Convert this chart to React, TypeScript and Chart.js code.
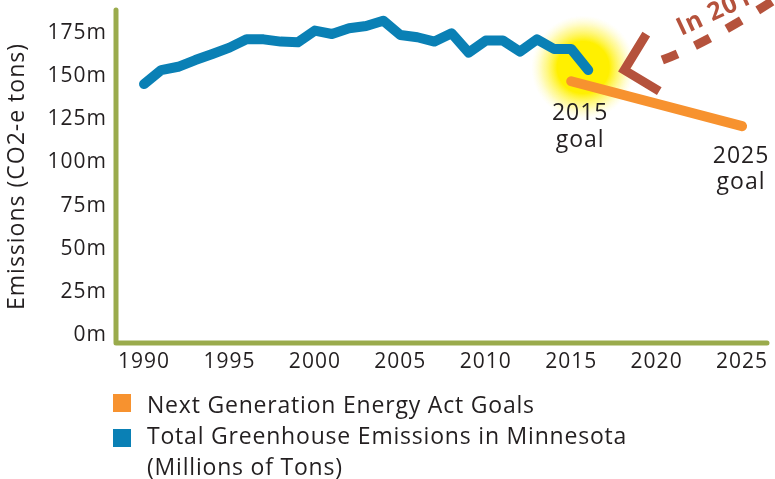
import React, { useEffect, useRef } from "react";
import { Chart, registerables } from "chart.js";

Chart.register(...registerables);

const years = [
  1990, 1991, 1992, 1993, 1994, 1995, 1996, 1997, 1998, 1999, 2000, 2001, 2002, 2003,
  2004, 2005, 2006, 2007, 2008, 2009, 2010, 2011, 2012, 2013, 2014, 2015, 2016,
];
const emissions = [
  145.4, 153.5, 155.4, 159.3, 162.8, 166.5, 171.3, 171.3, 170.0, 169.6, 176.4, 174.4, 177.7, 179.0,
  182.1, 173.8, 172.5, 170.0, 174.8, 163.6, 170.6, 170.6, 164.2, 171.3, 165.7, 165.7, 153.5,
];
const goalYears = [2015, 2025];
const goalValues = [147, 121];
const xTicks = [1990, 1995, 2000, 2005, 2010, 2015, 2020, 2025];
const yTicks = [0, 25, 50, 75, 100, 125, 150, 175];

const FONT = "'Open Sans', sans-serif";
const TEXT = "#231f20";
const BLUE = "#0a80b5";
const ORANGE = "#f7922f";
const OLIVE = "#9aab4c";
const BROWN = "#b5523c";

const spacingPlugin = {
  id: "letterSpacing",
  beforeLayout(chart: any) {
    chart.ctx.letterSpacing = "1px";
  },
  beforeDraw(chart: any) {
    chart.ctx.letterSpacing = "1px";
  },
};

const annotationPlugin = {
  id: "mnAnnotations",
  beforeDatasetsDraw(chart: any) {
    const { ctx, scales } = chart;
    const x = scales.x;
    const y = scales.y;
    const gx = x.getPixelForValue(2015.7);
    const gy = y.getPixelForValue(155);
    const g = ctx.createRadialGradient(gx, gy, 0, gx, gy, 52);
    g.addColorStop(0, "rgba(255,240,0,1)");
    g.addColorStop(0.5, "rgba(255,240,0,1)");
    g.addColorStop(0.78, "rgba(255,245,90,0.5)");
    g.addColorStop(1, "rgba(255,250,180,0)");
    ctx.save();
    ctx.fillStyle = g;
    ctx.beginPath();
    ctx.arc(gx, gy, 52, 0, Math.PI * 2);
    ctx.fill();
    ctx.restore();
  },
  afterDatasetsDraw(chart: any) {
    const { ctx, chartArea, scales } = chart;
    const x = scales.x;
    const y = scales.y;
    ctx.save();
    ctx.strokeStyle = OLIVE;
    ctx.lineWidth = 5;
    ctx.lineCap = "round";
    ctx.lineJoin = "round";
    ctx.beginPath();
    ctx.moveTo(chartArea.left, chartArea.top);
    ctx.lineTo(chartArea.left, chartArea.bottom);
    ctx.lineTo(chartArea.right, chartArea.bottom);
    ctx.stroke();

    ctx.fillStyle = TEXT;
    ctx.font = `23px ${FONT}`;
    ctx.textAlign = "center";
    ctx.textBaseline = "alphabetic";
    const s0x = x.getPixelForValue(goalYears[0]);
    const s0y = y.getPixelForValue(goalValues[0]);
    ctx.fillText(String(goalYears[0]), s0x + 9, s0y + 39);
    ctx.fillText("goal", s0x + 9, s0y + 66);
    const s1x = x.getPixelForValue(goalYears[1]);
    const s1y = y.getPixelForValue(goalValues[1]);
    ctx.fillText(String(goalYears[1]), s1x - 1, s1y + 37);
    ctx.fillText("goal", s1x - 1, s1y + 63);

    const lastX = x.getPixelForValue(years[years.length - 1]);
    const lastY = y.getPixelForValue(emissions[emissions.length - 1]);
    const tx = lastX + 36;
    const ty = lastY;
    ctx.strokeStyle = BROWN;
    ctx.lineWidth = 9;
    ctx.lineCap = "butt";
    ctx.lineJoin = "miter";
    ctx.beginPath();
    ctx.moveTo(tx + 22, ty - 36);
    ctx.lineTo(tx, ty);
    ctx.lineTo(tx + 35, ty + 21);
    ctx.stroke();
    ctx.setLineDash([17, 19]);
    ctx.beginPath();
    ctx.moveTo(tx + 38, ty - 10);
    ctx.quadraticCurveTo(tx + 90, ty - 30, tx + 165, ty - 80);
    ctx.stroke();
    ctx.setLineDash([]);

    ctx.translate(tx + 57, ty - 34);
    ctx.rotate((-25 * Math.PI) / 180);
    ctx.fillStyle = BROWN;
    ctx.font = `bold 25px ${FONT}`;
    ctx.textAlign = "left";
    ctx.fillText("In 2016", 0, 0);
    ctx.restore();
  },
};

export default function App() {
  const ref = useRef<HTMLCanvasElement | null>(null);
  useEffect(() => {
    if (!ref.current) return;
    const chart = new Chart(ref.current, {
      type: "line",
      data: {
        datasets: [
          {
            label: "Total Greenhouse Emissions in Minnesota (Millions of Tons)",
            data: years.map((yr, i) => ({ x: yr, y: emissions[i] })),
            borderColor: BLUE,
            backgroundColor: BLUE,
            borderWidth: 10,
            pointRadius: 0,
            borderCapStyle: "round",
            borderJoinStyle: "round",
            tension: 0,
          },
          {
            label: "Next Generation Energy Act Goals",
            data: goalYears.map((yr, i) => ({ x: yr, y: goalValues[i] })),
            borderColor: ORANGE,
            backgroundColor: ORANGE,
            borderWidth: 10,
            pointRadius: 0,
            borderCapStyle: "round",
            tension: 0,
          },
        ],
      },
      options: {
        responsive: false,
        animation: false,
        layout: { padding: { left: 0, top: 10, right: 8, bottom: 96 } },
        plugins: { legend: { display: false }, tooltip: { enabled: false } },
        scales: {
          x: {
            type: "linear",
            min: 1988.36,
            max: 2026.46,
            grid: { display: false, drawTicks: false },
            border: { display: false },
            afterBuildTicks: (s: any) => {
              s.ticks = xTicks.map((v) => ({ value: v }));
            },
            afterFit: (s: any) => {
              s.height = 40;
              s.paddingLeft = 0;
              s.paddingRight = 0;
            },
            ticks: {
              autoSkip: false,
              maxRotation: 0,
              padding: 6,
              color: TEXT,
              font: { family: FONT, size: 21 },
              callback: (v: any) => String(v),
            },
          },
          y: {
            type: "linear",
            min: -4.64,
            max: 188.3,
            grid: { display: false, drawTicks: false },
            border: { display: false },
            afterBuildTicks: (s: any) => {
              s.ticks = yTicks.map((v) => ({ value: v }));
            },
            afterFit: (s: any) => {
              s.width = 116;
              s.paddingTop = 0;
              s.paddingBottom = 0;
            },
            title: {
              display: true,
              text: "Emissions (CO2-e tons)",
              color: TEXT,
              font: { family: FONT, size: 23 },
              padding: { top: 4, bottom: 0 },
            },
            ticks: {
              padding: 9,
              color: TEXT,
              font: { family: FONT, size: 21 },
              callback: (v: any) => `${v}m`,
            },
          },
        },
      },
      plugins: [spacingPlugin, annotationPlugin],
    });
    return () => chart.destroy();
  }, []);

  const legendText: React.CSSProperties = {
    position: "absolute",
    left: 147,
    fontFamily: FONT,
    fontSize: 23,
    letterSpacing: "0.8px",
    lineHeight: "30.5px",
    color: TEXT,
    whiteSpace: "nowrap",
  };
  const sq = (color: string, top: number): React.CSSProperties => ({
    position: "absolute",
    left: 113,
    top,
    width: 18,
    height: 18,
    background: color,
  });

  return (
    <div style={{ position: "absolute", left: 0, top: 0, width: 775, height: 479, background: "#fff", overflow: "hidden" }}>
      <canvas ref={ref} width={775} height={479} style={{ position: "absolute", left: 0, top: 0 }} />
      <div style={sq(ORANGE, 394)} />
      <div style={{ ...legendText, top: 389 }}>Next Generation Energy Act Goals</div>
      <div style={sq(BLUE, 429)} />
      <div style={{ ...legendText, top: 420 }}>
        Total Greenhouse Emissions in Minnesota
        <br />
        (Millions of Tons)
      </div>
    </div>
  );
}
